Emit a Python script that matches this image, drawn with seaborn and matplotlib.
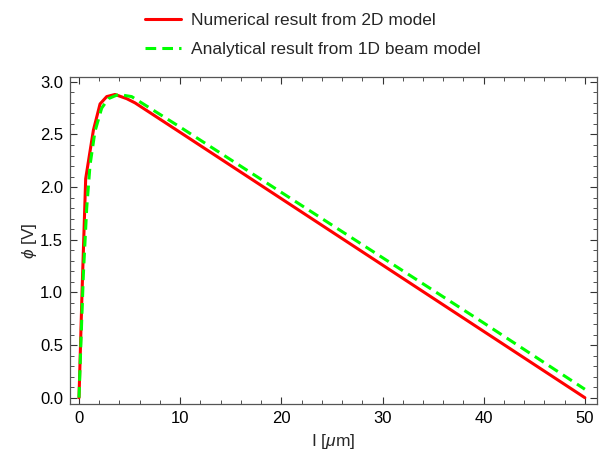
import numpy as np
import pandas as pd
import matplotlib
matplotlib.use("Agg")
import matplotlib.pyplot as plt
from matplotlib.ticker import MultipleLocator
import seaborn as sns

# Numerical result from 2D model
x_num = [0.0, 0.3, 0.66, 1.42, 2.08, 2.74, 3.56, 4.72, 5.54, 10.0, 20.0, 30.0, 40.0, 50.0]
phi_num = [0.0, 1.0, 2.08, 2.54, 2.79, 2.86, 2.88, 2.84, 2.80, 2.52, 1.89, 1.26, 0.63, 0.0]

# Analytical result from 1D beam model
x_ana = [0.0, 0.2, 0.43, 0.76, 1.09, 1.58, 2.24, 2.90, 3.89, 5.2, 10.0, 20.0, 30.0, 40.0, 50.0]
phi_ana = [0.0, 0.55, 1.17, 1.80, 2.21, 2.53, 2.75, 2.84, 2.88, 2.86, 2.57, 1.95, 1.33, 0.71, 0.08]

labels = ["Numerical result from 2D model", "Analytical result from 1D beam model"]

sns.set_style("ticks")
plt.rcParams['font.family'] = ['Liberation Sans', 'DejaVu Sans']
plt.rcParams['mathtext.fontset'] = 'custom'
plt.rcParams['mathtext.it'] = 'Liberation Sans:italic'
plt.rcParams['mathtext.rm'] = 'Liberation Sans'

fig = plt.figure(figsize=(6.03, 4.62), dpi=100)
ax = fig.add_axes([70/603, 1-404/462, (597-70)/603, (404-77)/462])

df_num = pd.DataFrame({"x": x_num, "y": phi_num})
df_ana = pd.DataFrame({"x": x_ana, "y": phi_ana})

sns.lineplot(data=df_num, x="x", y="y", ax=ax, color="#ff0000", lw=2.2, label=labels[0])
sns.lineplot(data=df_ana, x="x", y="y", ax=ax, color="#00ff00", lw=2.2, label=labels[1],
             linestyle=(0, (3.5, 2)))

ax.set_xlim(-0.89, 51.2)
ax.set_ylim(-0.06, 3.046)
ax.xaxis.set_major_locator(MultipleLocator(10))
ax.xaxis.set_minor_locator(MultipleLocator(2))
ax.yaxis.set_major_locator(MultipleLocator(0.5))
ax.yaxis.set_minor_locator(MultipleLocator(0.1))
ax.yaxis.set_major_formatter(matplotlib.ticker.FormatStrFormatter('%.1f'))
ax.tick_params(which='both', direction='in', top=True, right=True, color='#333333',
               labelsize=12, labelcolor='black')
ax.tick_params(which='major', length=5, width=0.8, pad=5)
ax.tick_params(which='minor', length=3, width=0.6)
for s in ax.spines.values():
    s.set_color('#555555')
    s.set_linewidth(0.9)

ax.set_xlabel("I [$\\mu$m]", fontsize=12.5, labelpad=4.5)
ax.set_ylabel("$\\phi$ [V]", fontsize=12.5, labelpad=1)

h, l = ax.get_legend_handles_labels()
ax.get_legend().remove()
fig.legend(h, l, loc='upper left', bbox_to_anchor=(129/603, 1.005), frameon=False,
           fontsize=12.5, handlelength=2.1, labelspacing=0.75, handletextpad=0.55)

fig.savefig("out.png", dpi=100)
